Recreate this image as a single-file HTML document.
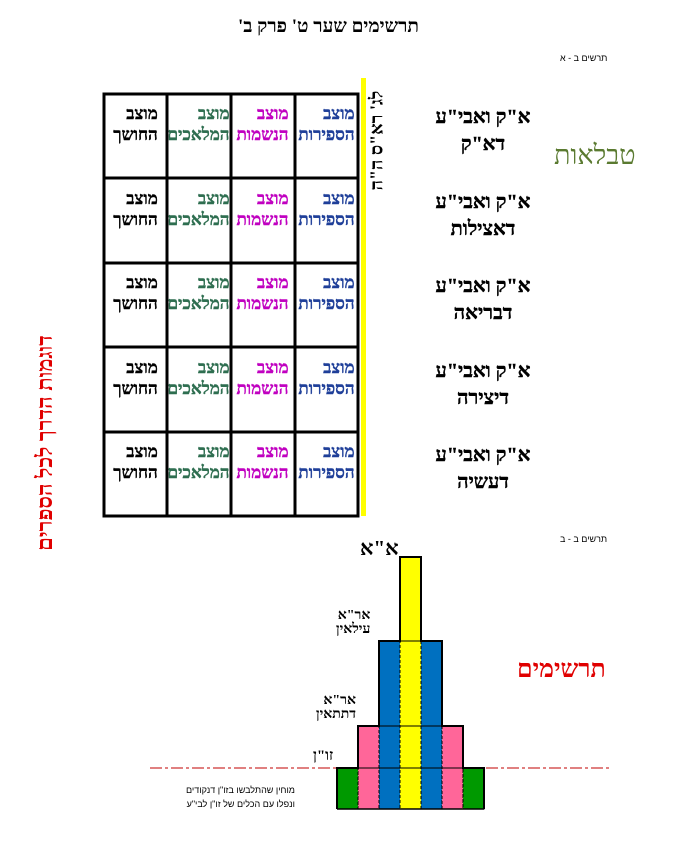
<!DOCTYPE html>
<html><head><meta charset="utf-8"><style>
body{margin:0;width:695px;height:857px;background:#fff;position:relative;overflow:hidden;font-family:"Liberation Serif","Noto Serif CJK SC",serif}
.a{position:absolute;white-space:nowrap}
.cell{position:absolute;width:63px;height:84px;display:flex;flex-direction:column;justify-content:center;align-items:center;font-weight:900;font-size:17px;line-height:21px;direction:rtl;margin-top:-12px;-webkit-text-stroke:0.4px}
.lbl{position:absolute;width:140px;text-align:center;font-weight:900;font-size:20px;line-height:27px;direction:rtl;-webkit-text-stroke:0.4px}
</style></head><body>
<div class="a" style="left:238px;top:16px;font-size:19px;font-weight:bold;direction:rtl">תרשימים שער ט' פרק ב'</div>
<div class="a" style="left:560px;top:53px;font-size:9px;font-family:'Liberation Sans',sans-serif;direction:rtl">תרשים ב - א</div>
<div class="a" style="left:560px;top:534px;font-size:9px;font-family:'Liberation Sans',sans-serif;direction:rtl">תרשים ב - ב</div>
<svg class="a" style="left:0;top:0" width="695" height="857">
<g stroke="#000" stroke-width="3" fill="none">
<rect x="104" y="94" width="254" height="422"/>
<line x1="167" y1="94" x2="167" y2="516"/><line x1="231" y1="94" x2="231" y2="516"/><line x1="295" y1="94" x2="295" y2="516"/>
<line x1="104" y1="178" x2="358" y2="178"/><line x1="104" y1="263" x2="358" y2="263"/><line x1="104" y1="347" x2="358" y2="347"/><line x1="104" y1="432" x2="358" y2="432"/>
</g>
<rect x="361" y="78" width="5" height="438" fill="#ffff00"/>
<line x1="150" y1="768" x2="612" y2="768" stroke="#c00000" stroke-width="1" stroke-dasharray="12,3,3,3"/>
<g stroke="#000" stroke-width="1" stroke-dasharray="3,2">
<rect x="400" y="557" width="21" height="252" fill="#ffff00"/>
<rect x="379" y="641" width="21" height="168" fill="#0070c0"/>
<rect x="421" y="641" width="21" height="168" fill="#0070c0"/>
<rect x="358" y="726" width="21" height="83" fill="#ff6699"/>
<rect x="442" y="726" width="21" height="83" fill="#ff6699"/>
<rect x="337" y="768" width="21" height="41" fill="#009900"/>
<rect x="463" y="768" width="21" height="41" fill="#009900"/>
</g>
<g stroke="#000" stroke-width="2" fill="none">
<polyline points="337,809 337,768 358,768 358,726 379,726 379,641 400,641 400,557 421,557 421,641 442,641 442,726 463,726 463,768 484,768 484,809"/>
<line x1="358" y1="768" x2="463" y2="768" stroke-width="1"/>
<line x1="379" y1="726" x2="442" y2="726" stroke-width="1"/>
<line x1="400" y1="641" x2="421" y2="641" stroke-width="1"/>
<line x1="337" y1="809" x2="484" y2="809" stroke-width="1.5"/>
</g>
</svg>
<div id="cells"></div>
<div class="a" style="left:554px;top:140px;font-size:27px;color:#5a7a30;direction:rtl">טבלאות</div>
<div class="a" style="left:517px;top:656px;font-size:25px;font-weight:900;color:#e00000;direction:rtl">תרשימים</div>
<div class="a" style="left:-75px;top:430px;width:240px;text-align:center;transform:rotate(-90deg);font-size:22px;font-weight:bold;color:#e00000;direction:rtl">דוגמות הדרך לכל הספרים</div>
<div class="a" style="left:322px;top:130px;width:110px;text-align:center;transform:rotate(-90deg);font-size:18px;font-weight:900;direction:rtl">לג' רא"ס ה"ה</div>
<div class="a" style="left:360px;top:536px;font-size:21px;font-weight:900">א"א</div>
<div class="a" style="left:336px;top:609px;font-size:14px;font-weight:900;line-height:14px;text-align:right;direction:rtl">אר"א<br>עילאין</div>
<div class="a" style="left:316px;top:694px;font-size:14px;font-weight:900;line-height:14px;text-align:right;direction:rtl">אר"א<br>דתתאין</div>
<div class="a" style="left:313px;top:748px;font-size:15px;font-weight:900">זו"ן</div>
<div class="a" style="left:190px;top:783px;font-size:9px;font-family:'Liberation Sans',sans-serif;direction:rtl;line-height:14px;text-align:right;width:105px">מוחין שהתלבשו בזו"ן דנקודים<br>ונפלו עם הכלים של זו"ן לבי"ע</div>
<script>
var names=['דא"ק','דאצילות','דבריאה','דיצירה','דעשיה'];
var cols=[['החושך','#000',104],['המלאכים','#2e6e50',167],['הנשמות','#c000c0',231],['הספירות','#1f3f99',295]];
var h='';
for(var r=0;r<5;r++){var y=94+r*84.5;
for(var c=0;c<4;c++){h+='<div class="cell" style="left:'+cols[c][2]+'px;top:'+y+'px;color:'+cols[c][1]+'">מוצב<br>'+cols[c][0]+'</div>';}
h+='<div class="lbl" style="left:413px;top:'+(y+10)+'px">א"ק ואבי"ע<br>'+names[r]+'</div>';}
document.getElementById('cells').innerHTML=h;
</script>
</body></html>
